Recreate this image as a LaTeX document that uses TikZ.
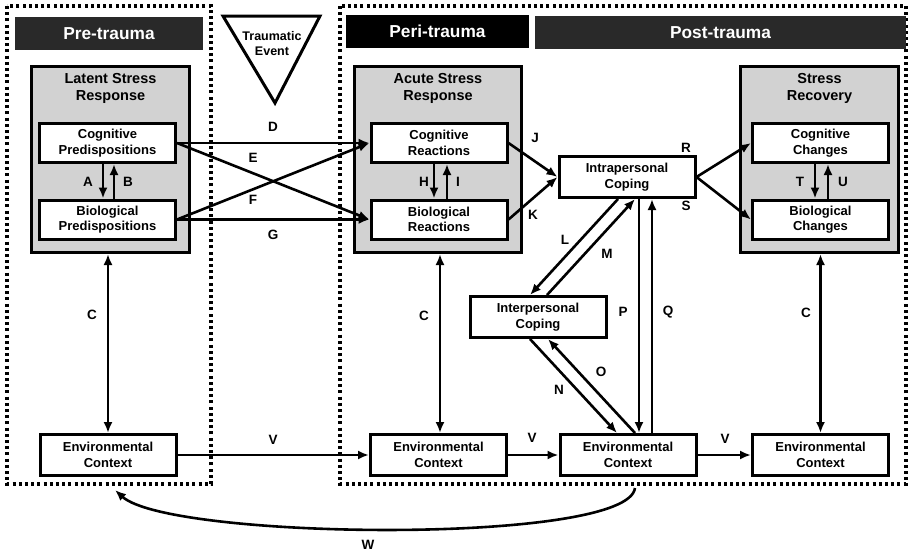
\documentclass[tikz,border=0pt]{standalone}
\usepackage{fontspec}
\setmainfont{Liberation Sans}
\usetikzlibrary{arrows.meta}

\tikzset{
  box/.style={draw, line width=3pt, fill=white, minimum width=136pt, minimum height=39pt,
    align=center, font=\fontsize{13}{15.5}\selectfont\bfseries},
  graybox/.style={draw, line width=3pt, fill=gray!35, minimum width=158pt, minimum height=186pt},
  head/.style={fill=black!84, text=white, minimum height=33pt, font=\fontsize{17.3}{18}\selectfont\bfseries},
  title/.style={align=center, font=\fontsize{14.5}{17}\selectfont\bfseries},
  lbl/.style={font=\fontsize{13.5}{13.5}\selectfont\bfseries},
  arr/.style={line width=2.6pt, -{Latex[length=11pt,width=9pt]}},
  darr/.style={line width=2.6pt, {Latex[length=11pt,width=9pt]}-{Latex[length=11pt,width=9pt]}},
  phase/.style={line width=3.2pt, dash pattern=on 3pt off 3.2pt}
}

\begin{document}
\begin{tikzpicture}[x=1pt, y=-1pt]
  \useasboundingbox (0,0) rectangle (911,555);

% phase frames
\draw [phase] (7,6) rectangle (211,484);
\draw [phase] (340,6) rectangle (906,484);

\node [head, minimum width=188pt] (pre) at (109,33.5) {Pre-trauma};
\node [head, fill=black, minimum width=183pt] (peri) at (437.5,31.5) {Peri-trauma};
\node [head, minimum width=371pt] (post) at (720.5,32.5) {Post-trauma};

% traumatic event
\draw [line width=3pt, line join=miter] (223,16) -- (320,16) -- (275,103) -- cycle;
\node [align=center, font=\fontsize{12.5}{15}\selectfont\bfseries] (event) at (272,44) {Traumatic\\Event};

% stress response blocks
\node [graybox] (latent) at (110.5,159.5) {};
\node [graybox, minimum width=167pt] (acute) at (438,159.5) {};
\node [graybox] (recovery) at (819.5,159.5) {};
\node [title] (latentT) at (110.5,88) {Latent Stress\\Response};
\node [title] (acuteT) at (438,88) {Acute Stress\\Response};
\node [title] (recoveryT) at (819.5,88) {Stress\\Recovery};

\node [box] (cogP) at (107.5,143) {Cognitive\\Predispositions};
\node [box] (bioP) at (107.5,219.5) {Biological\\Predispositions};
\node [box] (cogR) at (439,143) {Cognitive\\Reactions};
\node [box] (bioR) at (439,219.5) {Biological\\Reactions};
\node [box] (cogC) at (820.5,143) {Cognitive\\Changes};
\node [box] (bioC) at (820.5,219.5) {Biological\\Changes};

\node [box, minimum height=41pt] (intra) at (627,177) {Intrapersonal\\Coping};
\node [box, minimum height=41pt] (inter) at (538,317) {Interpersonal\\Coping};

\node [box, minimum height=41pt] (env1) at (108,455) {Environmental\\Context};
\node [box, minimum height=41pt] (env2) at (438.5,455) {Environmental\\Context};
\node [box, minimum height=41pt] (env3) at (628,455) {Environmental\\Context};
\node [box, minimum height=41pt] (env4) at (820.5,455) {Environmental\\Context};

% within blocks
\draw [arr] ([xshift=-4.5pt]cogP.south) -- ([xshift=-4.5pt]bioP.north);
\draw [arr] ([xshift=6.5pt]bioP.north) -- ([xshift=6.5pt]cogP.south);
\draw [arr] ([xshift=-5pt]cogR.south) -- ([xshift=-5pt]bioR.north);
\draw [arr] ([xshift=8pt]bioR.north) -- ([xshift=8pt]cogR.south);
\draw [arr] ([xshift=-5.5pt]cogC.south) -- ([xshift=-5.5pt]bioC.north);
\draw [arr] ([xshift=7.5pt]bioC.north) -- ([xshift=7.5pt]cogC.south);

% pre to peri
\draw [arr] (cogP.east) -- (cogR.west);
\draw [arr] (cogP.east) -- (bioR.west);
\draw [arr] (bioP.east) -- (cogR.west);
\draw [arr] (bioP.east) -- (bioR.west);

% coping
\draw [arr] (cogR.east) -- (intra.west);
\draw [arr] (bioR.east) -- (intra.west);
\draw [arr] (intra.east) -- (cogC.west);
\draw [arr] (intra.east) -- (bioC.west);
\draw [arr] ([xshift=-9pt]intra.south) -- ([xshift=-8pt]inter.north);
\draw [arr] ([xshift=9pt]inter.north) -- ([xshift=8pt]intra.south);
\draw [arr] ([xshift=-8pt]inter.south) -- ([xshift=-11pt]env3.north);
\draw [arr] ([xshift=7pt]env3.north) -- ([xshift=10pt]inter.south);
\draw [arr] ([xshift=12pt]intra.south) -- ([xshift=11pt]env3.north);
\draw [arr] ([xshift=24pt]env3.north) -- ([xshift=25pt]intra.south);

% context
\draw [darr] (latent.south -| env1.north) -- (env1.north);
\draw [darr] ([xshift=1.5pt]env2.north |- acute.south) -- ([xshift=1.5pt]env2.north);
\draw [darr] (recovery.south -| env4.north) -- (env4.north);
\draw [arr] (env1.east) -- (env2.west);
\draw [arr] (env2.east) -- (env3.west);
\draw [arr] (env3.east) -- (env4.west);

\coordinate (wstart) at (635,488);
\coordinate (wend) at (115,490);
\draw [arr] (wstart) .. controls (628,545) and (170,540) .. (wend);

% labels
\node [lbl] (lA) at (88,182) {A};
\node [lbl] (lB) at (128,182) {B};
\node [lbl] (lC1) at (92,315) {C};
\node [lbl] (lD) at (273,127) {D};
\node [lbl] (lE) at (253,158) {E};
\node [lbl] (lF) at (253,200) {F};
\node [lbl] (lG) at (273,235) {G};
\node [lbl] (lH) at (424,182) {H};
\node [lbl] (lI) at (458,182) {I};
\node [lbl] (lC2) at (424,316) {C};
\node [lbl] (lJ) at (535,138) {J};
\node [lbl] (lK) at (533,215) {K};
\node [lbl] (lL) at (565,240) {L};
\node [lbl] (lM) at (607,254) {M};
\node [lbl] (lN) at (559,390) {N};
\node [lbl] (lO) at (601,372) {O};
\node [lbl] (lP) at (623,312) {P};
\node [lbl] (lQ) at (668,312) {Q};
\node [lbl] (lR) at (686,148) {R};
\node [lbl] (lS) at (686,206) {S};
\node [lbl] (lT) at (800,182) {T};
\node [lbl] (lU) at (843,182) {U};
\node [lbl] (lC3) at (806,313) {C};
\node [lbl] (lV1) at (273,440) {V};
\node [lbl] (lV2) at (532,438) {V};
\node [lbl] (lV3) at (725,439) {V};
\node [lbl] (lW) at (368,545) {W};
\end{tikzpicture}
\end{document}
